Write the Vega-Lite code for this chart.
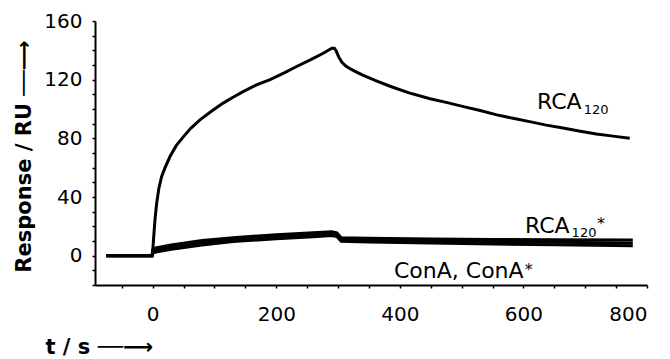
{
  "$schema": "https://vega.github.io/schema/vega-lite/v6.json",
  "width": 552,
  "height": 264,
  "autosize": {"type": "none"},
  "padding": {"left": 95, "top": 21, "right": 23, "bottom": 74},
  "background": "white",
  "config": {
    "view": {"stroke": null},
    "font": "DejaVu Sans",
    "axis": {
      "grid": false,
      "domainColor": "black",
      "domainWidth": 2,
      "tickColor": "black",
      "tickWidth": 1.5,
      "tickSize": 3,
      "labelFont": "DejaVu Sans",
      "labelFontSize": 20,
      "labelColor": "black",
      "titleFont": "DejaVu Sans",
      "titleFontSize": 21,
      "titleFontWeight": "bold",
      "titleColor": "black"
    }
  },
  "datasets": {
    "curves": [
      {"series": "RCA120", "t": -75, "r": 0}, {"series": "RCA120", "t": -40, "r": 0}, {"series": "RCA120", "t": -1, "r": 0},
      {"series": "RCA120", "t": 0, "r": 3}, {"series": "RCA120", "t": 2, "r": 15}, {"series": "RCA120", "t": 4, "r": 26},
      {"series": "RCA120", "t": 6.5, "r": 36}, {"series": "RCA120", "t": 10, "r": 46}, {"series": "RCA120", "t": 14.5, "r": 54},
      {"series": "RCA120", "t": 20, "r": 60}, {"series": "RCA120", "t": 28, "r": 67.6}, {"series": "RCA120", "t": 38, "r": 75},
      {"series": "RCA120", "t": 49.5, "r": 81}, {"series": "RCA120", "t": 62, "r": 87}, {"series": "RCA120", "t": 76.5, "r": 92.6},
      {"series": "RCA120", "t": 95, "r": 98.5}, {"series": "RCA120", "t": 114, "r": 104}, {"series": "RCA120", "t": 130, "r": 108},
      {"series": "RCA120", "t": 147, "r": 112}, {"series": "RCA120", "t": 168, "r": 116.5}, {"series": "RCA120", "t": 190, "r": 120},
      {"series": "RCA120", "t": 212, "r": 124.5}, {"series": "RCA120", "t": 233, "r": 129}, {"series": "RCA120", "t": 255, "r": 133.5},
      {"series": "RCA120", "t": 276, "r": 138}, {"series": "RCA120", "t": 290, "r": 141.5}, {"series": "RCA120", "t": 294, "r": 141.5},
      {"series": "RCA120", "t": 297, "r": 139.5}, {"series": "RCA120", "t": 301, "r": 135.5}, {"series": "RCA120", "t": 306, "r": 132},
      {"series": "RCA120", "t": 312, "r": 129.5}, {"series": "RCA120", "t": 320, "r": 127.3}, {"series": "RCA120", "t": 330, "r": 125.2},
      {"series": "RCA120", "t": 341, "r": 123}, {"series": "RCA120", "t": 360, "r": 119.5}, {"series": "RCA120", "t": 384, "r": 115.5},
      {"series": "RCA120", "t": 415, "r": 111}, {"series": "RCA120", "t": 449, "r": 107}, {"series": "RCA120", "t": 475, "r": 104.5},
      {"series": "RCA120", "t": 503, "r": 101.6}, {"series": "RCA120", "t": 530, "r": 99}, {"series": "RCA120", "t": 557, "r": 96},
      {"series": "RCA120", "t": 585, "r": 93.5}, {"series": "RCA120", "t": 610, "r": 91.4}, {"series": "RCA120", "t": 637, "r": 89},
      {"series": "RCA120", "t": 664, "r": 87}, {"series": "RCA120", "t": 690, "r": 85}, {"series": "RCA120", "t": 718, "r": 83},
      {"series": "RCA120", "t": 745, "r": 81.5}, {"series": "RCA120", "t": 772, "r": 80},

      {"series": "RCA120*", "t": -75, "r": 0}, {"series": "RCA120*", "t": -1, "r": 0}, {"series": "RCA120*", "t": 0, "r": 4},
      {"series": "RCA120*", "t": 5, "r": 5.3}, {"series": "RCA120*", "t": 30, "r": 7.3}, {"series": "RCA120*", "t": 80, "r": 10.3},
      {"series": "RCA120*", "t": 130, "r": 12.3}, {"series": "RCA120*", "t": 200, "r": 14.3}, {"series": "RCA120*", "t": 260, "r": 15.6},
      {"series": "RCA120*", "t": 290, "r": 16.3}, {"series": "RCA120*", "t": 298, "r": 15.5}, {"series": "RCA120*", "t": 305, "r": 12.2},
      {"series": "RCA120*", "t": 350, "r": 11.8}, {"series": "RCA120*", "t": 450, "r": 11.4}, {"series": "RCA120*", "t": 550, "r": 11.1},
      {"series": "RCA120*", "t": 650, "r": 10.9}, {"series": "RCA120*", "t": 777, "r": 10.6},

      {"series": "ConA*", "t": -75, "r": 0}, {"series": "ConA*", "t": -1, "r": 0}, {"series": "ConA*", "t": 0, "r": 2.8},
      {"series": "ConA*", "t": 5, "r": 3.9}, {"series": "ConA*", "t": 30, "r": 5.8}, {"series": "ConA*", "t": 80, "r": 8.7},
      {"series": "ConA*", "t": 130, "r": 11}, {"series": "ConA*", "t": 200, "r": 12.8}, {"series": "ConA*", "t": 260, "r": 14.2},
      {"series": "ConA*", "t": 290, "r": 15}, {"series": "ConA*", "t": 298, "r": 14.3}, {"series": "ConA*", "t": 305, "r": 11},
      {"series": "ConA*", "t": 350, "r": 10.6}, {"series": "ConA*", "t": 450, "r": 10.1}, {"series": "ConA*", "t": 550, "r": 9.6},
      {"series": "ConA*", "t": 650, "r": 9.1}, {"series": "ConA*", "t": 777, "r": 8.6},

      {"series": "ConA", "t": -75, "r": 0}, {"series": "ConA", "t": -1, "r": 0}, {"series": "ConA", "t": 0, "r": 1.6},
      {"series": "ConA", "t": 5, "r": 2.5}, {"series": "ConA", "t": 30, "r": 4.3}, {"series": "ConA", "t": 80, "r": 7.2},
      {"series": "ConA", "t": 130, "r": 9.7}, {"series": "ConA", "t": 200, "r": 11.5}, {"series": "ConA", "t": 260, "r": 12.9},
      {"series": "ConA", "t": 290, "r": 13.7}, {"series": "ConA", "t": 298, "r": 13}, {"series": "ConA", "t": 305, "r": 9.8},
      {"series": "ConA", "t": 350, "r": 9.3}, {"series": "ConA", "t": 450, "r": 8.7}, {"series": "ConA", "t": 550, "r": 8},
      {"series": "ConA", "t": 650, "r": 7.4}, {"series": "ConA", "t": 777, "r": 6.7}
    ],
    "mainLabels": [
      {"t": 622, "r": 100, "label": "RCA"},
      {"t": 602.5, "r": 15.5, "label": "RCA"},
      {"t": 390.5, "r": -15.2, "label": "ConA, ConA"}
    ],
    "subLabels": [
      {"t": 697.5, "r": 96.6, "label": "120"},
      {"t": 678, "r": 12.7, "label": "120"}
    ],
    "supLabels": [
      {"t": 719, "r": 17.9, "label": "*"},
      {"t": 602, "r": -13.2, "label": "*"}
    ]
  },
  "encoding": {
    "x": {
      "field": "t", "type": "quantitative",
      "scale": {"domain": [-93.4, 800], "nice": false, "zero": false},
      "axis": {
        "values": [-50, 0, 50, 100, 150, 200, 250, 300, 350, 400, 450, 500, 550, 600, 650, 700, 750, 800],
        "labelExpr": "datum.value % 200 === 0 ? datum.label : ''",
        "labelPadding": 16,
        "title": "t / s  ──⟶",
        "titleAnchor": "start",
        "titleAlign": "left",
        "titleBaseline": "alphabetic",
        "titleX": -50,
        "titleY": 68
      }
    },
    "y": {
      "field": "r", "type": "quantitative",
      "scale": {"domain": [-20, 160], "nice": false, "zero": false},
      "axis": {
        "values": [-20, -10, 0, 10, 20, 30, 40, 50, 60, 70, 80, 90, 100, 110, 120, 130, 140, 150, 160],
        "labelExpr": "datum.value % 40 === 0 ? datum.label : ''",
        "labelPadding": 10,
        "title": "Response / RU    ──⟶",
        "titleAngle": -90,
        "titleAlign": "center",
        "titleBaseline": "middle",
        "titleX": -71,
        "titleY": 135
      }
    }
  },
  "layer": [
    {
      "data": {"name": "curves"},
      "mark": {"type": "line", "color": "black", "strokeWidth": 3},
      "encoding": {"detail": {"field": "series"}}
    },
    {
      "data": {"name": "mainLabels"},
      "mark": {"type": "text", "align": "left", "baseline": "alphabetic", "fontSize": 22, "font": "DejaVu Sans", "color": "black"},
      "encoding": {"text": {"field": "label"}}
    },
    {
      "data": {"name": "subLabels"},
      "mark": {"type": "text", "align": "left", "baseline": "alphabetic", "fontSize": 13, "font": "DejaVu Sans", "color": "black"},
      "encoding": {"text": {"field": "label"}}
    },
    {
      "data": {"name": "supLabels"},
      "mark": {"type": "text", "align": "left", "baseline": "alphabetic", "fontSize": 16, "font": "DejaVu Sans", "color": "black"},
      "encoding": {"text": {"field": "label"}}
    }
  ]
}
